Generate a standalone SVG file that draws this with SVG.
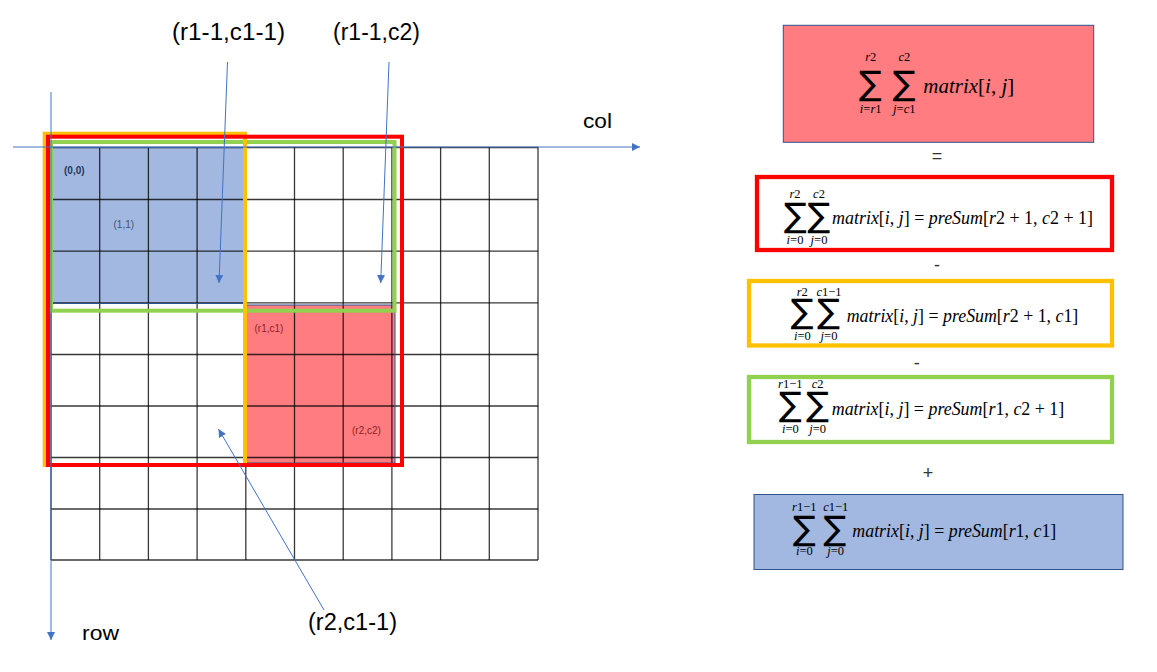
<svg xmlns="http://www.w3.org/2000/svg" width="1157" height="672" viewBox="0 0 1157 672">
<style>
.grid line{stroke:#000;stroke-opacity:.78;stroke-width:1.3}
.frame{fill:none;stroke-width:4}
.ax{stroke:#4472C4;stroke-width:1;fill:none}
.lbl{font-family:"Liberation Sans","Noto Sans CJK SC",sans-serif;fill:#000}
.sm{font-family:"Liberation Sans",sans-serif;font-size:10px}
.m{font-family:"Liberation Serif","DejaVu Serif",serif;fill:#000}
.it{font-style:italic}
.sig{font-family:"DejaVu Sans",sans-serif;font-size:34px;text-anchor:middle}
.lim{font-size:12.5px;text-anchor:middle}
.op{font-family:"Liberation Sans",sans-serif;font-size:18px;text-anchor:middle;fill:#333}
</style>
<defs>
<marker id="ah" viewBox="0 0 10 10" refX="10" refY="5" markerWidth="8" markerHeight="8" markerUnits="userSpaceOnUse" orient="auto">
<path d="M0,0 L10,5 L0,10 z" fill="#4472C4"/>
</marker>
</defs>
<rect width="1157" height="672" fill="#fff"/>

<g id="blue-region">
<rect x="51.5" y="147.5" width="192" height="156" fill="#A2B8E0"/>
</g>
<g id="red-region">
<rect x="246" y="305" width="149" height="158" fill="#FF7C80"/>
</g>

<g id="grid" class="grid">
<line x1="51" y1="147" x2="51" y2="560"/>
<line x1="99.7" y1="147" x2="99.7" y2="560"/>
<line x1="148.4" y1="147" x2="148.4" y2="560"/>
<line x1="197.1" y1="147" x2="197.1" y2="560"/>
<line x1="245.8" y1="147" x2="245.8" y2="560"/>
<line x1="294.5" y1="147" x2="294.5" y2="560"/>
<line x1="343.2" y1="147" x2="343.2" y2="560"/>
<line x1="391.9" y1="147" x2="391.9" y2="560"/>
<line x1="440.6" y1="147" x2="440.6" y2="560"/>
<line x1="489.3" y1="147" x2="489.3" y2="560"/>
<line x1="538" y1="147" x2="538" y2="560"/>
<line x1="51" y1="147.5" x2="538" y2="147.5"/>
<line x1="51" y1="199.5" x2="538" y2="199.5"/>
<line x1="51" y1="251.2" x2="538" y2="251.2"/>
<line x1="51" y1="302.9" x2="538" y2="302.9"/>
<line x1="51" y1="354.5" x2="538" y2="354.5"/>
<line x1="51" y1="406" x2="538" y2="406"/>
<line x1="51" y1="457.5" x2="538" y2="457.5"/>
<line x1="51" y1="509" x2="538" y2="509"/>
<line x1="51" y1="560" x2="538" y2="560"/>
</g>

<g id="region-borders" fill="none" stroke="#2F528F" stroke-width="1">
<rect x="51.5" y="147.5" width="192" height="156"/>
<rect x="246" y="305" width="149" height="158"/>
</g>

<g id="green-frame"><rect class="frame" x="51" y="142" width="343.5" height="168.7" stroke="#92D050"/></g>
<g id="yellow-frame"><rect class="frame" x="44.7" y="133.7" width="200.3" height="331.3" stroke="#FFC000"/></g>
<g id="red-frame"><rect class="frame" x="48" y="136.7" width="354" height="328.3" stroke="#FF0000"/></g>

<g id="cell-labels">
<text class="sm" x="64" y="174" fill="#1F3864" font-weight="bold">(0,0)</text>
<text class="sm" x="113.5" y="228" fill="#44546A">(1,1)</text>
<text class="sm" x="254.5" y="332" fill="#8E1F1F">(r1,c1)</text>
<text class="sm" x="352" y="434" fill="#8E1F1F">(r2,c2)</text>
</g>

<g id="connectors">
<line class="ax" x1="13" y1="147" x2="640" y2="147" marker-end="url(#ah)"/>
<line class="ax" x1="51" y1="92" x2="51" y2="640" marker-end="url(#ah)"/>
<line class="ax" x1="227.5" y1="62" x2="219" y2="283" marker-end="url(#ah)"/>
<line class="ax" x1="389" y1="62" x2="380.7" y2="283" marker-end="url(#ah)"/>
<line class="ax" x1="324" y1="610" x2="218.5" y2="429" marker-end="url(#ah)"/>
</g>

<g id="axis-labels">
<text class="lbl" x="583" y="128" font-size="20" textLength="29" lengthAdjust="spacingAndGlyphs">col</text>
<text class="lbl" x="82" y="640" font-size="20" textLength="37" lengthAdjust="spacingAndGlyphs">row</text>
<text class="lbl" x="172" y="40" font-size="23" textLength="113" lengthAdjust="spacingAndGlyphs">(r1-1,c1-1)</text>
<text class="lbl" x="333" y="40" font-size="23" textLength="87" lengthAdjust="spacingAndGlyphs">(r1-1,c2)</text>
<text class="lbl" x="308" y="630" font-size="23" textLength="89" lengthAdjust="spacingAndGlyphs">(r2,c1-1)</text>
</g>

<g id="box-total">
<rect x="783.3" y="25.3" width="310.4" height="117" fill="#FF7C80" stroke="#2F528F" stroke-width="1"/>
<text class="m sig" x="870.5" y="95" font-size="39">∑</text>
<text class="m sig" x="904.3" y="95" font-size="39">∑</text>
<text class="m lim" x="870.7" y="61" font-size="13.5"><tspan class="it">r</tspan>2</text>
<text class="m lim" x="904.3" y="61" font-size="13.5"><tspan class="it">c</tspan>2</text>
<text class="m lim" x="870.7" y="113" font-size="13.5"><tspan class="it">i</tspan>=<tspan class="it">r</tspan>1</text>
<text class="m lim" x="904.3" y="113" font-size="13.5"><tspan class="it">j</tspan>=<tspan class="it">c</tspan>1</text>
<text class="m" x="923.3" y="92.5" font-size="21" textLength="91" lengthAdjust="spacingAndGlyphs"><tspan class="it">matrix</tspan>[<tspan class="it">i</tspan>, <tspan class="it">j</tspan>]</text>
</g>
<text class="op" x="937" y="162">=</text>

<g id="box-red">
<rect x="757" y="177" width="355" height="73" fill="#fff" stroke="#FF0000" stroke-width="4.3"/>
<text class="m sig" x="795.5" y="227">∑</text>
<text class="m sig" x="819" y="227">∑</text>
<text class="m lim" x="795" y="198"><tspan class="it">r</tspan>2</text>
<text class="m lim" x="819" y="198"><tspan class="it">c</tspan>2</text>
<text class="m lim" x="795" y="243.5"><tspan class="it">i</tspan>=0</text>
<text class="m lim" x="819" y="243.5"><tspan class="it">j</tspan>=0</text>
<text class="m" x="832" y="224" font-size="18" textLength="261" lengthAdjust="spacingAndGlyphs"><tspan class="it">matrix</tspan>[<tspan class="it">i</tspan>, <tspan class="it">j</tspan>] = <tspan class="it">preSum</tspan>[<tspan class="it">r</tspan>2 + 1, <tspan class="it">c</tspan>2 + 1]</text>
</g>
<text class="op" x="937" y="271">-</text>

<g id="box-yellow">
<rect x="749" y="281" width="363" height="64.5" fill="#fff" stroke="#FFC000" stroke-width="4.3"/>
<text class="m sig" x="802.3" y="323">∑</text>
<text class="m sig" x="828.7" y="323">∑</text>
<text class="m lim" x="802.3" y="295.5"><tspan class="it">r</tspan>2</text>
<text class="m lim" x="829" y="295.5"><tspan class="it">c</tspan>1−1</text>
<text class="m lim" x="802.3" y="340"><tspan class="it">i</tspan>=0</text>
<text class="m lim" x="829" y="340"><tspan class="it">j</tspan>=0</text>
<text class="m" x="846.7" y="321.5" font-size="18" textLength="231.6" lengthAdjust="spacingAndGlyphs"><tspan class="it">matrix</tspan>[<tspan class="it">i</tspan>, <tspan class="it">j</tspan>] = <tspan class="it">preSum</tspan>[<tspan class="it">r</tspan>2 + 1, <tspan class="it">c</tspan>1]</text>
</g>
<text class="op" x="916.7" y="369">-</text>

<g id="box-green">
<rect x="749" y="377" width="363" height="65" fill="#fff" stroke="#92D050" stroke-width="4.3"/>
<text class="m sig" x="790.5" y="416">∑</text>
<text class="m sig" x="817.7" y="416">∑</text>
<text class="m lim" x="790.3" y="388"><tspan class="it">r</tspan>1−1</text>
<text class="m lim" x="817.7" y="388"><tspan class="it">c</tspan>2</text>
<text class="m lim" x="790.3" y="433"><tspan class="it">i</tspan>=0</text>
<text class="m lim" x="817.7" y="433"><tspan class="it">j</tspan>=0</text>
<text class="m" x="831.7" y="415" font-size="18" textLength="232.6" lengthAdjust="spacingAndGlyphs"><tspan class="it">matrix</tspan>[<tspan class="it">i</tspan>, <tspan class="it">j</tspan>] = <tspan class="it">preSum</tspan>[<tspan class="it">r</tspan>1, <tspan class="it">c</tspan>2 + 1]</text>
</g>
<text class="op" x="928" y="479">+</text>

<g id="box-blue">
<rect x="754" y="494.5" width="369" height="75" fill="#A2B8E0" stroke="#2F528F" stroke-width="1"/>
<text class="m sig" x="804.5" y="540">∑</text>
<text class="m sig" x="835" y="540">∑</text>
<text class="m lim" x="804.3" y="510.5"><tspan class="it">r</tspan>1−1</text>
<text class="m lim" x="835.7" y="510.5"><tspan class="it">c</tspan>1−1</text>
<text class="m lim" x="804.3" y="555"><tspan class="it">i</tspan>=0</text>
<text class="m lim" x="835.7" y="555"><tspan class="it">j</tspan>=0</text>
<text class="m" x="852.3" y="536.5" font-size="18" textLength="204" lengthAdjust="spacingAndGlyphs"><tspan class="it">matrix</tspan>[<tspan class="it">i</tspan>, <tspan class="it">j</tspan>] = <tspan class="it">preSum</tspan>[<tspan class="it">r</tspan>1, <tspan class="it">c</tspan>1]</text>
</g>
</svg>
